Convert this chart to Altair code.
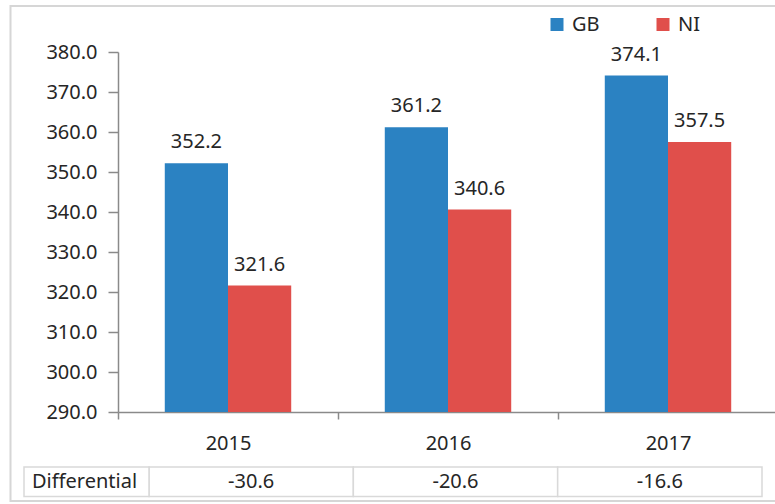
import altair as alt
import pandas as pd

# ---- data ----
years = ["2015", "2016", "2017"]
series_names = ["GB", "NI"]
gb_values = [352.2, 361.2, 374.1]
ni_values = [321.6, 340.6, 357.5]
differential = [-30.6, -20.6, -16.6]
row_label = ["Differential"]
y_ticks = [290, 300, 310, 320, 330, 340, 350, 360, 370, 380]

bars_df = pd.DataFrame({
    "year": years * 2,
    "series": [series_names[0]] * 3 + [series_names[1]] * 3,
    "value": gb_values + ni_values,
})
table_df = pd.DataFrame({
    "year": years,
    "diff_text": [f"{v:.1f}" for v in differential],
})
label_df = pd.DataFrame({"label": row_label})
one_df = pd.DataFrame({"k": [0]})

FONT = "Noto Sans"
TEXT = "#262626"
AXIS = "#8a8a8a"
GRID = "#d9d9d9"
BLUE = "#2b82c2"
RED = "#e04f4b"

x_bar = alt.X(
    "year:N",
    sort=years,
    scale=alt.Scale(range=[0, 660], paddingInner=0, paddingOuter=0),
    axis=alt.Axis(
        title=None, labelAngle=0, tickBand="extent", tickSize=7,
        labelPadding=14, labelFontSize=20, labelFont=FONT, labelColor=TEXT,
        domainColor=AXIS, tickColor=AXIS, domainWidth=1.5, tickWidth=1.5,
    ),
)
x_off = alt.XOffset(
    "series:N", sort=series_names,
    scale=alt.Scale(paddingInner=0, paddingOuter=0.74),
)
y_enc = alt.Y(
    "value:Q",
    scale=alt.Scale(domain=[290, 380], zero=False, nice=False),
    axis=alt.Axis(
        title=None, values=y_ticks, format=".1f", tickSize=10, labelPadding=11,
        grid=False, labelFontSize=20, labelFont=FONT, labelColor=TEXT,
        domainColor=AXIS, tickColor=AXIS, domainWidth=1.5, tickWidth=1.5,
    ),
)

bars = alt.Chart(bars_df).mark_bar().encode(
    x=x_bar,
    xOffset=x_off,
    y=y_enc,
    y2=alt.datum(290),
    color=alt.Color(
        "series:N",
        scale=alt.Scale(domain=series_names, range=[BLUE, RED]),
        legend=alt.Legend(
            title=None, orient="none", legendX=429, legendY=-37.5,
            direction="horizontal", symbolType="square", symbolSize=169,
            symbolStrokeWidth=0, labelFontSize=20, labelFont=FONT,
            labelColor=TEXT, labelOffset=5, columnPadding=53, padding=0,
        ),
    ),
)

labels = alt.Chart(bars_df).mark_text(
    baseline="alphabetic", dy=-15, fontSize=20, font=FONT, color=TEXT
).encode(
    x=x_bar,
    xOffset=x_off,
    y=y_enc,
    text=alt.Text("value:Q", format=".1f"),
)

plot = alt.layer(bars, labels)

border = alt.Chart(one_df).mark_rect(
    fill="transparent", stroke="#d6d6d6", strokeWidth=2
).encode(
    x=alt.value(-107.5), x2=alt.value(720),
    y=alt.value(-46), y2=alt.value(449),
)

table_x = alt.X(
    "year:N", sort=years,
    scale=alt.Scale(range=[31, 644], paddingInner=0, paddingOuter=0),
    axis=None,
)

cells = alt.Chart(table_df).mark_rect(
    fill="white", stroke=GRID, strokeWidth=1.5
).encode(
    x=table_x, y=alt.value(415), y2=alt.value(444.5),
)

cell_text = alt.Chart(table_df).mark_text(
    baseline="middle", fontSize=20, font=FONT, color=TEXT
).encode(
    x=table_x, y=alt.value(430), text="diff_text:N",
)

label_cell = alt.Chart(label_df).mark_rect(
    fill="white", stroke=GRID, strokeWidth=1.5
).encode(
    x=alt.value(-94), x2=alt.value(31), y=alt.value(415), y2=alt.value(444.5),
)

label_text = alt.Chart(label_df).mark_text(
    align="left", baseline="middle", fontSize=20, font=FONT, color=TEXT
).encode(
    x=alt.value(-86), y=alt.value(430), text="label:N",
)

chart = alt.layer(
    border, plot, cells, cell_text, label_cell, label_text
).resolve_scale(
    x="independent"
).properties(
    width=657,
    height=360,
    autosize=alt.AutoSizeParams(type="none"),
    padding={"left": 118, "top": 52, "right": 0, "bottom": 92},
    background="white",
).configure_view(stroke=None)

chart.save("out.html", embed_options={"renderer": "svg", "actions": False})
